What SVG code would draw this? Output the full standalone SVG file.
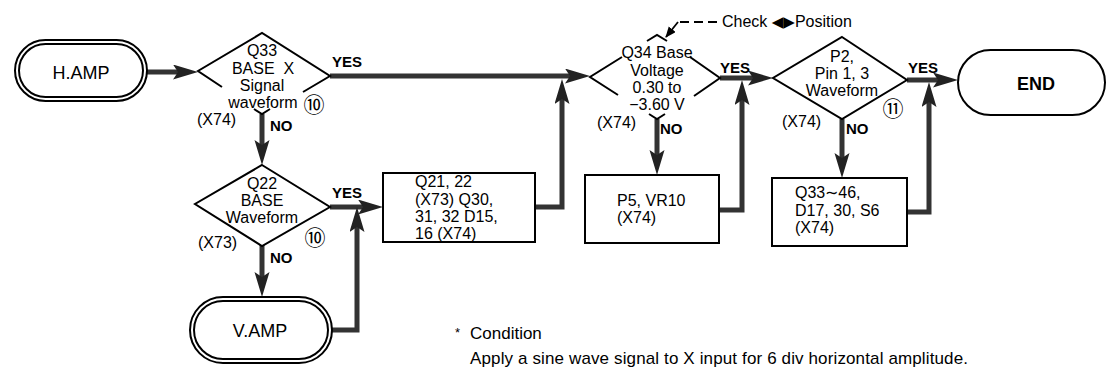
<svg xmlns="http://www.w3.org/2000/svg" width="1110" height="375" viewBox="0 0 1110 375">
<defs>
<style>
.ln{fill:none;stroke:#000;stroke-width:2;stroke-linejoin:miter}
.bx{fill:#fff;stroke:#000;stroke-width:2}
.t{font-family:"Liberation Sans",Arial,sans-serif;font-size:16px;fill:#000}
.c{text-anchor:middle}
.lb{font-family:"Liberation Sans",Arial,sans-serif;font-size:15px;font-weight:bold;fill:#000}
.big{font-family:"Liberation Sans",Arial,sans-serif;font-size:18px;fill:#000;text-anchor:middle}
.cn{font-family:"Noto Sans CJK JP","DejaVu Sans",sans-serif;font-size:21px;fill:#000;text-anchor:middle}
.w{fill:none;stroke:#333;stroke-width:5;stroke-linejoin:miter;marker-end:url(#ah)}
.ft{font-family:"Liberation Sans",Arial,sans-serif;font-size:17px;fill:#000}
</style>
<marker id="ah" markerUnits="userSpaceOnUse" markerWidth="26" markerHeight="16" refX="13" refY="7.5" orient="auto">
<path d="M0,0 L25,7.5 L0,15 L5,7.5 Z" fill="#222"/>
</marker>
<marker id="ahs" markerUnits="userSpaceOnUse" markerWidth="12" markerHeight="10" refX="10" refY="4.5" orient="auto">
<path d="M0,0 L11,4.5 L0,9 Z" fill="#000"/>
</marker>
</defs>

<g id="connectors">
<path class="w" d="M147,72 H186"/>
<path class="w" d="M262,114 V153"/>
<path class="w" d="M330,76 H578"/>
<path class="w" d="M330,207 H371"/>
<path class="w" d="M262,245 V285"/>
<path class="w" d="M332,330 H357 V219"/>
<path class="w" d="M535,207 H562 V91"/>
<path class="w" d="M657,119 V163"/>
<path class="w" d="M719,210 H742 V92"/>
<path class="w" d="M720,78 H761"/>
<path class="w" d="M842,119 V166"/>
<path class="w" d="M907,212 H929 V94"/>
<path class="w" d="M907,80 H946"/>
<text class="lb" x="332" y="67">YES</text>
<text class="lb" x="270" y="131">NO</text>
<text class="lb" x="332" y="198">YES</text>
<text class="lb" x="270" y="263">NO</text>
<text class="lb" x="720" y="73">YES</text>
<text class="lb" x="660" y="134">NO</text>
<text class="lb" x="908" y="73">YES</text>
<text class="lb" x="846" y="134">NO</text>
</g>

<g id="hamp">
<rect x="15" y="40" width="132" height="61" rx="30.5" class="bx"/>
<rect x="19" y="44" width="124" height="53" rx="26.5" class="ln"/>
<text class="big" x="81" y="79">H.AMP</text>
</g>

<g id="q33">
<polyline class="ln" points="222,87 198,71 262,33 330,76 303,92"/>
<polyline class="ln" points="254,109 262,114 270,109"/>
<text class="t c" x="262" y="56">Q33</text>
<text class="t c" x="263" y="74" xml:space="preserve">BASE  X</text>
<text class="t c" x="262" y="91">Signal</text>
<text class="t c" x="263" y="108">waveform</text>
<text class="cn" x="314" y="112">⑩</text>
<text class="t" x="197" y="125">(X74)</text>
</g>

<g id="q22">
<polygon class="ln" points="262,165 330,207 262,246 195,204"/>
<text class="t c" x="262" y="189">Q22</text>
<text class="t c" x="262" y="206">BASE</text>
<text class="t c" x="262" y="223">Waveform</text>
<text class="cn" x="315" y="245">⑩</text>
<text class="t" x="198" y="248">(X73)</text>
</g>

<g id="vamp">
<rect x="190" y="297" width="142" height="66" rx="33" class="bx"/>
<rect x="194" y="301" width="134" height="58" rx="29" class="ln"/>
<text class="big" x="260" y="337">V.AMP</text>
</g>

<g id="box1">
<rect x="383" y="173" width="152" height="69" class="bx"/>
<text class="t" x="415" y="187">Q21, 22</text>
<text class="t" x="415" y="205">(X73) Q30,</text>
<text class="t" x="415" y="222">31, 32 D15,</text>
<text class="t" x="415" y="239">16 (X74)</text>
</g>

<g id="q34">
<polyline class="ln" points="622,57 590,77 618,95"/>
<polyline class="ln" points="647,41 657,35 667,41"/>
<polyline class="ln" points="690,57 720,78 694,96"/>
<polyline class="ln" points="649,114 657,119 665,114"/>
<text class="t c" x="657" y="58">Q34 Base</text>
<text class="t c" x="657" y="76">Voltage</text>
<text class="t c" x="657" y="93">0.30 to</text>
<text class="t c" x="657" y="110">−3.60 V</text>
<text class="t" x="597" y="128">(X74)</text>
</g>

<g id="check">
<path d="M717,22 H678" fill="none" stroke="#000" stroke-width="1.8" stroke-dasharray="9,5"/>
<path d="M678,22 L666,37" fill="none" stroke="#000" stroke-width="1.8" marker-end="url(#ahs)"/>
<text class="t" x="722" y="27">Check <tspan style="font-family:'DejaVu Sans',sans-serif;font-size:15px">◀▶</tspan>Position</text>
</g>

<g id="box2">
<rect x="585" y="175" width="134" height="68" class="bx"/>
<text class="t" x="617" y="206">P5, VR10</text>
<text class="t" x="617" y="223">(X74)</text>
</g>

<g id="p2">
<polygon class="ln" points="842,37 907,80 842,119 773,78"/>
<text class="t c" x="842" y="62">P2,</text>
<text class="t c" x="842" y="79">Pin 1, 3</text>
<text class="t c" x="842" y="96">Waveform</text>
<text class="cn" x="893" y="116">⑪</text>
<text class="t" x="782" y="127">(X74)</text>
</g>

<g id="box3">
<rect x="772" y="178" width="135" height="68" class="bx"/>
<text class="t" x="795" y="198">Q33∼46,</text>
<text class="t" x="795" y="216">D17, 30, S6</text>
<text class="t" x="795" y="233">(X74)</text>
</g>

<g id="end">
<rect x="958" y="50" width="147" height="65" rx="32.5" class="bx"/>
<text class="big" x="1036" y="90" font-weight="bold">END</text>
</g>

<g id="note">
<text class="ft" x="455" y="337" style="font-size:13px">*</text>
<text class="ft" x="470" y="339">Condition</text>
<text class="ft" x="470" y="364" textLength="498" lengthAdjust="spacing">Apply a sine wave signal to X input for 6 div horizontal amplitude.</text>
</g>
</svg>
